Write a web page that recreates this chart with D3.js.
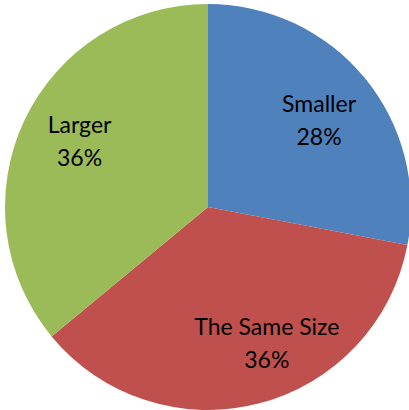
<!DOCTYPE html>
<html>
<head>
<meta charset="utf-8">
<script src="https://cdn.jsdelivr.net/npm/d3@7"></script>
<style>
  html, body { margin: 0; padding: 0; background: #fff; }
  text { font-family: Lato, "Liberation Sans", sans-serif; font-size: 23px; fill: #000; }
</style>
</head>
<body>
<div id="chart"></div>
<script>
// data
var categories = ["Smaller", "The Same Size", "Larger"];
var values = [28, 36, 36];
var colors = ["#4F81BD", "#C0504D", "#9BBB59"];

var width = 409, height = 410;
var cx = 208, cy = 207, radius = 203;

// small label nudges (excel "best fit" pushes the bottom label to the right)
var labelNudge = [[0, 5], [23, -4], [2, -5]];

var svg = d3.select("#chart").append("svg")
    .attr("width", width)
    .attr("height", height);

var g = svg.append("g")
    .attr("transform", "translate(" + cx + "," + cy + ")");

var pie = d3.pie().sort(null).value(function(d) { return d; });
var arc = d3.arc().innerRadius(0).outerRadius(radius);
var labelArc = d3.arc().innerRadius(radius * 0.71).outerRadius(radius * 0.71);

var arcs = pie(values);

g.selectAll("path.slice")
  .data(arcs)
  .enter().append("path")
    .attr("class", "slice")
    .attr("d", arc)
    .style("fill", function(d, i) { return colors[i]; });

// labels: name + percent
var lab = g.selectAll("g.label")
  .data(arcs)
  .enter().append("g")
    .attr("class", "label")
    .attr("transform", function(d, i) {
      var c = labelArc.centroid(d);
      return "translate(" + (c[0] + labelNudge[i][0]) + "," + (c[1] + labelNudge[i][1]) + ")";
    });

lab.append("text")
  .attr("text-anchor", "middle")
  .attr("y", -8)
  .text(function(d, i) { return categories[i]; });

lab.append("text")
  .attr("text-anchor", "middle")
  .attr("y", 25)
  .text(function(d) { return d.data + "%"; });
</script>
</body>
</html>
